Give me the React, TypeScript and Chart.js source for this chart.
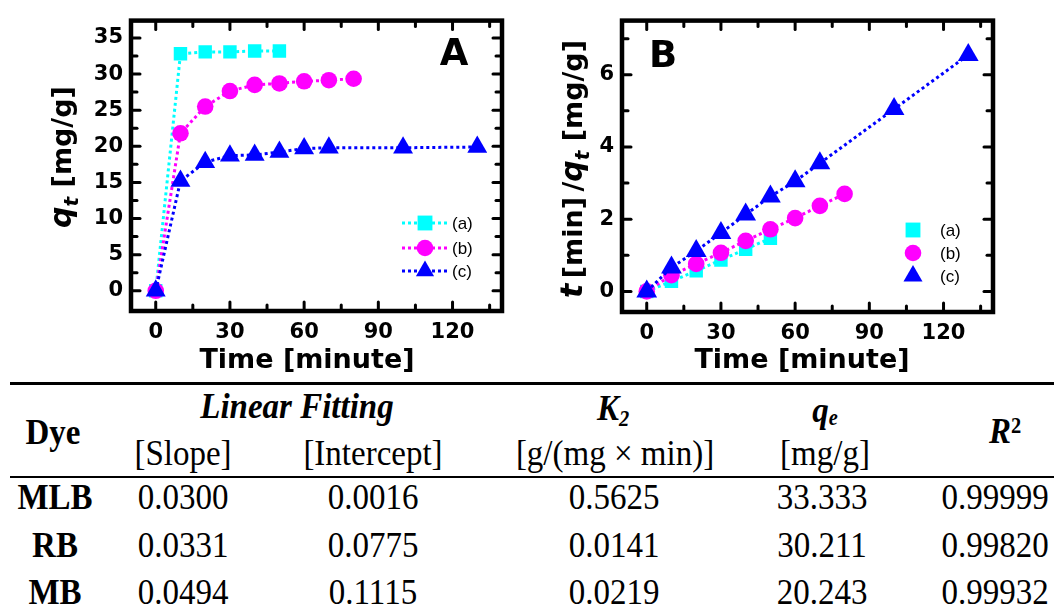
import React, { useEffect, useRef } from 'react';
import { Chart, registerables } from 'chart.js';

Chart.register(...registerables);

// ---------- data ----------
const timeMLB = [0, 10, 20, 30, 40, 50];
const timeRB = [0, 10, 20, 30, 40, 50, 60, 70, 80];
const timeMB = [0, 10, 20, 30, 40, 50, 60, 70, 100, 130];

const qtMLB = [0, 32.8, 33.07, 33.07, 33.2, 33.2];
const qtRB = [0, 21.8, 25.5, 27.65, 28.5, 28.7, 29.0, 29.15, 29.35];
const qtMB = [0, 15.2, 17.8, 18.7, 18.8, 19.2, 19.7, 19.8, 19.8, 19.9];

const tqMLB = [0, 0.28, 0.57, 0.87, 1.17, 1.47];
const tqRB = [0, 0.45, 0.76, 1.07, 1.4, 1.72, 2.03, 2.37, 2.7];
const tqMB = [0, 0.66, 1.12, 1.62, 2.13, 2.63, 3.05, 3.55, 5.05, 6.55];

const xMajorTicks = [0, 30, 60, 90, 120];
const xMinorTicks = [15, 45, 75, 105, 135];
const yMajorTicksA = [0, 5, 10, 15, 20, 25, 30, 35];
const yMinorTicksA = [2.5, 7.5, 12.5, 17.5, 22.5, 27.5, 32.5];
const yMajorTicksB = [0, 2, 4, 6];
const yMinorTicksB = [1, 3, 5, 7];

const legendLabels = ['(a)', '(b)', '(c)'];

const dyes = ['MLB', 'RB', 'MB'];
const slopes = ['0.0300', '0.0331', '0.0494'];
const intercepts = ['0.0016', '0.0775', '0.1115'];
const k2Values = ['0.5625', '0.0141', '0.0219'];
const qeValues = ['33.333', '30.211', '20.243'];
const r2Values = ['0.99999', '0.99820', '0.99932'];

// ---------- styles ----------
const CYAN = '#00FFFF';
const MAGENTA = '#FF00FF';
const BLUE = '#0000FF';
const SANS = '"DejaVu Sans", Verdana, sans-serif';
const SERIF = '"Liberation Serif", "Times New Roman", serif';

function makeDataset(xs: number[], ys: number[], color: string, style: string, radius: number, order: number) {
  return {
    data: xs.map((x, i) => ({ x, y: ys[i] })),
    showLine: true,
    borderColor: color,
    backgroundColor: color,
    borderWidth: 3,
    borderDash: [3, 3],
    pointStyle: style,
    pointRadius: radius,
    pointBorderWidth: 0,
    pointBackgroundColor: color,
    pointBorderColor: color,
    order,
    tension: 0,
  };
}

function drawMarker(ctx: CanvasRenderingContext2D, style: string, x: number, y: number, r: number, color: string) {
  ctx.fillStyle = color;
  ctx.beginPath();
  if (style === 'rect') {
    const s = r * Math.SQRT1_2;
    ctx.rect(x - s, y - s, 2 * s, 2 * s);
  } else if (style === 'circle') {
    ctx.arc(x, y, r, 0, Math.PI * 2);
  } else {
    ctx.moveTo(x, y - r);
    ctx.lineTo(x + r * 0.866, y + r * 0.5);
    ctx.lineTo(x - r * 0.866, y + r * 0.5);
  }
  ctx.closePath();
  ctx.fill();
}

type Part = { t: string; font: string; dy?: number };

function drawRich(ctx: CanvasRenderingContext2D, parts: Part[], cx: number, cy: number, rotated: boolean) {
  ctx.save();
  ctx.translate(cx, cy);
  if (rotated) ctx.rotate(-Math.PI / 2);
  ctx.textBaseline = 'alphabetic';
  ctx.textAlign = 'left';
  ctx.fillStyle = '#000';
  const widths = parts.map((p) => {
    ctx.font = p.font;
    return ctx.measureText(p.t).width;
  });
  let x = -widths.reduce((a, b) => a + b, 0) / 2;
  parts.forEach((p, i) => {
    ctx.font = p.font;
    ctx.fillText(p.t, x, p.dy || 0);
    x += widths[i];
  });
  ctx.restore();
}

type Series = { xs: number[]; ys: number[]; color: string; style: string; radius: number; legendRadius: number };

type PanelSpec = {
  width: number;
  height: number;
  area: { left: number; top: number; right: number; bottom: number };
  series: Series[];
  yMin: number;
  yMax: number;
  yMajor: number[];
  yMinor: number[];
  letter: string;
  letterPos: [number, number];
  xTitlePos: [number, number];
  yTitle: Part[];
  yTitlePos: [number, number];
  legend: { rows: number[]; markerX: number; textX: number; line: [number, number] | null };
};

function buildConfig(spec: PanelSpec) {
  const tickFont = { family: SANS, size: 21, weight: 'bold' as const };
  const decor = {
    id: 'panelDecor',
    afterDraw(chart: any) {
      const ctx: CanvasRenderingContext2D = chart.ctx;
      const { left, right, top, bottom } = chart.chartArea;
      const xs = chart.scales.x;
      const ys = chart.scales.y;
      ctx.save();
      // frame
      ctx.strokeStyle = '#000';
      ctx.lineWidth = 4.5;
      ctx.strokeRect(left, top, right - left, bottom - top);
      // inward ticks
      ctx.lineWidth = 3;
      ctx.lineCap = 'round';
      const tick = (x1: number, y1: number, x2: number, y2: number) => {
        ctx.beginPath();
        ctx.moveTo(x1, y1);
        ctx.lineTo(x2, y2);
        ctx.stroke();
      };
      const xt = (vals: number[], len: number) =>
        vals.forEach((v) => {
          const p = xs.getPixelForValue(v);
          if (p < left + 2 || p > right - 2) return;
          tick(p, bottom, p, bottom - len);
          tick(p, top, p, top + len);
        });
      const yt = (vals: number[], len: number) =>
        vals.forEach((v) => {
          const p = ys.getPixelForValue(v);
          if (p < top + 2 || p > bottom - 2) return;
          tick(left, p, left + len, p);
          tick(right, p, right - len, p);
        });
      xt(xMajorTicks, 9);
      xt(xMinorTicks, 6);
      yt(spec.yMajor, 9);
      yt(spec.yMinor, 6);

      // legend
      spec.series.forEach((s, i) => {
        const yy = spec.legend.rows[i];
        if (spec.legend.line) {
          ctx.save();
          ctx.strokeStyle = s.color;
          ctx.lineWidth = 3;
          ctx.lineCap = 'butt';
          ctx.setLineDash([3, 3]);
          ctx.beginPath();
          ctx.moveTo(spec.legend.line[0], yy);
          ctx.lineTo(spec.legend.line[1], yy);
          ctx.stroke();
          ctx.restore();
        }
        drawMarker(ctx, s.style, spec.legend.markerX, yy, s.legendRadius, s.color);
        ctx.fillStyle = '#000';
        ctx.font = '17px "Liberation Sans", Arial, sans-serif';
        ctx.textAlign = 'left';
        ctx.textBaseline = 'middle';
        ctx.fillText(legendLabels[i], spec.legend.textX, yy + 1);
      });

      // panel letter
      ctx.fillStyle = '#000';
      ctx.font = `bold 37px ${SANS}`;
      ctx.textAlign = 'center';
      ctx.textBaseline = 'alphabetic';
      ctx.fillText(spec.letter, spec.letterPos[0], spec.letterPos[1]);

      // axis titles
      drawRich(ctx, [{ t: 'Time [minute]', font: `bold 27px ${SANS}` }], spec.xTitlePos[0], spec.xTitlePos[1], false);
      drawRich(ctx, spec.yTitle, spec.yTitlePos[0], spec.yTitlePos[1], true);
      ctx.restore();
    },
  };

  return {
    type: 'scatter' as const,
    data: {
      datasets: spec.series.map((s, i) => makeDataset(s.xs, s.ys, s.color, s.style, s.radius, 3 - i)),
    },
    options: {
      responsive: false,
      animation: false as const,
      events: [],
      layout: { padding: { top: spec.area.top, right: spec.width - spec.area.right, left: 0, bottom: 0 } },
      plugins: { legend: { display: false }, tooltip: { enabled: false } },
      scales: {
        x: {
          type: 'linear' as const,
          min: -10,
          max: 140,
          grid: { display: false, drawTicks: false },
          border: { display: false },
          ticks: { font: tickFont, color: '#000', padding: 9, maxRotation: 0 },
          afterBuildTicks: (scale: any) => {
            scale.ticks = xMajorTicks.map((v) => ({ value: v }));
          },
          afterFit: (scale: any) => {
            scale.height = spec.height - spec.area.bottom;
          },
        },
        y: {
          type: 'linear' as const,
          min: spec.yMin,
          max: spec.yMax,
          grid: { display: false, drawTicks: false },
          border: { display: false },
          ticks: { font: tickFont, color: '#000', padding: 8 },
          afterBuildTicks: (scale: any) => {
            scale.ticks = spec.yMajor.map((v) => ({ value: v }));
          },
          afterFit: (scale: any) => {
            scale.width = spec.area.left;
          },
        },
      },
    },
    plugins: [decor],
  };
}

const italicQ = `italic bold 30px ${SANS}`;
const subT = `italic bold 20px ${SANS}`;
const bold27 = `bold 27px ${SANS}`;

const specA: PanelSpec = {
  width: 520,
  height: 380,
  area: { left: 131, top: 14, right: 502, bottom: 311 },
  series: [
    { xs: timeMLB, ys: qtMLB, color: CYAN, style: 'rect', radius: 9.5, legendRadius: 10.5 },
    { xs: timeRB, ys: qtRB, color: MAGENTA, style: 'circle', radius: 8.3, legendRadius: 8.3 },
    { xs: timeMB, ys: qtMB, color: BLUE, style: 'triangle', radius: 11.5, legendRadius: 10.5 },
  ],
  yMin: -2.8,
  yMax: 37.4,
  yMajor: yMajorTicksA,
  yMinor: yMinorTicksA,
  letter: 'A',
  letterPos: [454, 65],
  xTitlePos: [307, 368],
  yTitle: [
    { t: 'q', font: italicQ },
    { t: 't', font: subT, dy: 7 },
    { t: ' [mg/g]', font: bold27 },
  ],
  yTitlePos: [71, 157],
  legend: { rows: [223, 248, 271], markerX: 425, textX: 452, line: [402, 447] },
};

const specB: PanelSpec = {
  width: 534,
  height: 380,
  area: { left: 102, top: 14, right: 473, bottom: 312 },
  series: [
    { xs: timeMLB, ys: tqMLB, color: CYAN, style: 'rect', radius: 9.5, legendRadius: 10.5 },
    { xs: timeRB, ys: tqRB, color: MAGENTA, style: 'circle', radius: 8.3, legendRadius: 8.3 },
    { xs: timeMB, ys: tqMB, color: BLUE, style: 'triangle', radius: 12, legendRadius: 11 },
  ],
  yMin: -0.57,
  yMax: 7.5,
  yMajor: yMajorTicksB,
  yMinor: yMinorTicksB,
  letter: 'B',
  letterPos: [143, 67],
  xTitlePos: [282, 368],
  yTitle: [
    { t: 't', font: italicQ },
    { t: '\u2009[min]\u2009/', font: bold27 },
    { t: 'q', font: italicQ },
    { t: 't', font: subT, dy: 7 },
    { t: ' [mg/g]', font: bold27 },
  ],
  yTitlePos: [62, 169],
  legend: { rows: [230, 253, 276], markerX: 393, textX: 420, line: null },
};

function Panel({ spec, left }: { spec: PanelSpec; left: number }) {
  const ref = useRef<HTMLCanvasElement | null>(null);
  useEffect(() => {
    const chart = new Chart(ref.current as HTMLCanvasElement, buildConfig(spec) as any);
    return () => chart.destroy();
  }, []);
  return (
    <canvas
      ref={ref}
      width={spec.width}
      height={spec.height}
      style={{ position: 'absolute', left, top: 0, width: spec.width, height: spec.height }}
    />
  );
}

function Cell({ x, y, children, style }: { x: number; y: number; children: any; style?: any }) {
  return (
    <div
      style={{
        position: 'absolute',
        left: x,
        top: y,
        transform: 'translate(-50%, -50%) scaleY(1.1)',
        whiteSpace: 'nowrap',
        lineHeight: 1,
        fontFamily: SERIF,
        fontSize: 33,
        color: '#000',
        ...style,
      }}
    >
      {children}
    </div>
  );
}

const colX = { dye: 55, slope: 183, intercept: 373, k2: 614, qe: 822, r2: 995 };
const rowY = [497, 545, 592];

export default function App() {
  return (
    <div style={{ position: 'absolute', left: 0, top: 0, width: 1054, height: 608, background: '#fff', overflow: 'hidden' }}>
      <Panel spec={specA} left={0} />
      <Panel spec={specB} left={520} />

      <div style={{ position: 'absolute', left: 10, top: 382, width: 1044, height: 2.5, background: '#000' }} />
      <div style={{ position: 'absolute', left: 10, top: 476, width: 1044, height: 2, background: '#000' }} />

      <Cell x={297} y={406} style={{ fontWeight: 'bold', fontStyle: 'italic' }}>Linear Fitting</Cell>
      <Cell x={53} y={432} style={{ fontWeight: 'bold' }}>Dye</Cell>
      <Cell x={613} y={408} style={{ fontWeight: 'bold', fontStyle: 'italic' }}>
        K<span style={{ fontSize: '0.62em', position: 'relative', top: '0.3em' }}>2</span>
      </Cell>
      <Cell x={825} y={410} style={{ fontWeight: 'bold', fontStyle: 'italic' }}>
        q<span style={{ fontSize: '0.62em', position: 'relative', top: '0.15em' }}>e</span>
      </Cell>
      <Cell x={1005} y={431} style={{ fontWeight: 'bold', fontStyle: 'italic' }}>
        R<span style={{ fontSize: '0.62em', position: 'relative', top: '-0.45em', fontStyle: 'normal' }}>2</span>
      </Cell>
      <Cell x={colX.slope} y={453}>[Slope]</Cell>
      <Cell x={colX.intercept} y={453}>[Intercept]</Cell>
      <Cell x={615} y={453}>[g/(mg × min)]</Cell>
      <Cell x={825} y={453}>[mg/g]</Cell>

      {dyes.map((d, i) => (
        <React.Fragment key={d}>
          <Cell x={colX.dye} y={rowY[i]} style={{ fontWeight: 'bold' }}>{d}</Cell>
          <Cell x={colX.slope} y={rowY[i]}>{slopes[i]}</Cell>
          <Cell x={colX.intercept} y={rowY[i]}>{intercepts[i]}</Cell>
          <Cell x={colX.k2} y={rowY[i]}>{k2Values[i]}</Cell>
          <Cell x={colX.qe} y={rowY[i]}>{qeValues[i]}</Cell>
          <Cell x={colX.r2} y={rowY[i]}>{r2Values[i]}</Cell>
        </React.Fragment>
      ))}
    </div>
  );
}
